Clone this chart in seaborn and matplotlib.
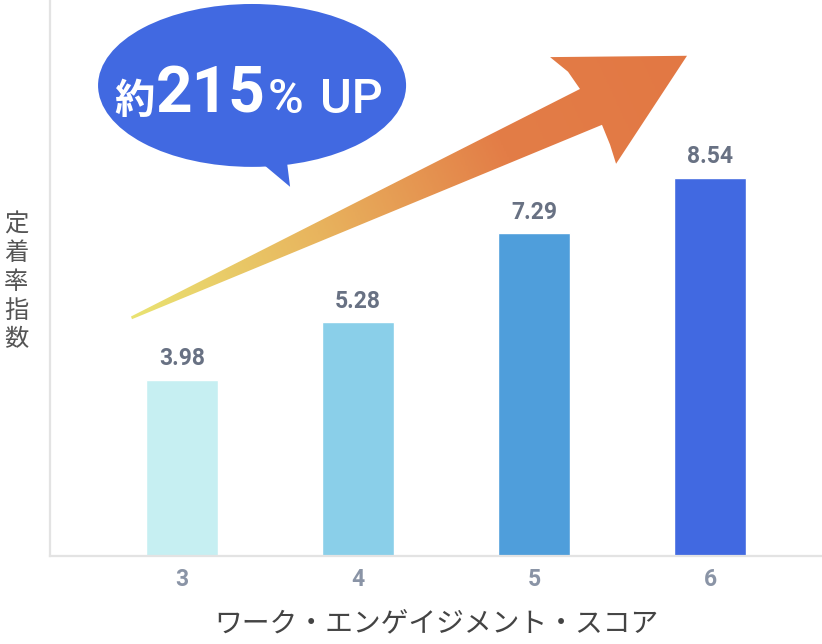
import numpy as np
import pandas as pd
import matplotlib
matplotlib.use("Agg")
import matplotlib.pyplot as plt
import seaborn as sns
from matplotlib.patches import Ellipse, Polygon
from matplotlib.colors import LinearSegmentedColormap

# data
scores = ["3", "4", "5", "6"]
index_values = [3.98, 5.28, 7.29, 8.54]
bar_colors = ["#c6eff2", "#8acfe9", "#4f9edb", "#4169e1"]
x_title = "ワーク・エンゲイジメント・スコア"
y_title = "定着率指数"

sns.set_style("white")
plt.rcParams["font.family"] = ["Roboto", "Noto Sans CJK JP", "DejaVu Sans"]

df = pd.DataFrame({"score": scores, "value": index_values})

fig = plt.figure(figsize=(8.22, 6.44), dpi=100)
ax = fig.add_axes([50 / 822, 88 / 644, 772 / 822, 556 / 644])

sns.barplot(data=df, x="score", y="value", hue="score", palette=bar_colors,
            legend=False, width=0.41, saturation=1, ax=ax)

for c in ax.containers:
    ax.bar_label(c, fmt="%.2f", padding=7, fontsize=16.5, color="#687183",
                 fontweight="bold")

ax.set_xlim(-0.75, 3.636)
ax.set_ylim(0, 12.56)
ax.set_yticks([])
ax.tick_params(axis="x", length=0, pad=9, labelsize=16.5, labelcolor="#8a94a6")
for lab in ax.get_xticklabels():
    lab.set_fontweight("bold")
sns.despine(ax=ax, top=True, right=True)
for s in ["left", "bottom"]:
    ax.spines[s].set_color("#e3e3e3")
    ax.spines[s].set_linewidth(1.6)

ax.set_xlabel(x_title, fontsize=20, color="#444444", labelpad=12,
              family=["Noto Sans CJK JP", "DejaVu Sans"])
ax.set_ylabel("")
fig.text(16 / 822, 1 - 282 / 644, "\n".join(y_title), fontsize=17.5,
         color="#555555", ha="center", va="center", linespacing=1.13,
         family=["Noto Sans CJK JP", "DejaVu Sans"])

# gradient arrow
arrow_pts = [(-0.290, 5.41), (2.261, 10.55), (2.193, 10.94), (2.091, 11.27),
             (2.869, 11.30), (2.466, 8.86), (2.432, 9.29), (2.386, 9.74),
             (-0.284, 5.35)]
poly = Polygon(arrow_pts, closed=True, facecolor="none", edgecolor="none")
ax.add_patch(poly)
cmap = LinearSegmentedColormap.from_list("arr", ["#eae372", "#e8b45e", "#e37d47", "#e27844"])
xs = np.linspace(-0.35, 2.95, 400)
ys = np.linspace(5.2, 11.4, 300)
gx, gy = np.meshgrid(xs, ys)
dx, dy = (2.869 + 0.29) * 176, (11.30 - 5.41) * 44.26
t = ((gx + 0.29) * 176 * dx + (gy - 5.41) * 44.26 * dy) / (dx * dx + dy * dy)
img = ax.imshow(np.clip(t, 0, 1), cmap=cmap, origin="lower", aspect="auto",
                extent=(xs[0], xs[-1], ys[0], ys[-1]), zorder=3, vmin=0, vmax=1)
img.set_clip_path(poly)

# speech bubble
bubble = Ellipse((0.398, 10.63), 1.75, 3.68, facecolor="#4169e1",
                 edgecolor="none", zorder=4, clip_on=False)
ax.add_patch(bubble)
tail = Polygon([(0.386, 9.1), (0.614, 8.34), (0.59, 9.1)], closed=True,
               facecolor="#4169e1", edgecolor="none", zorder=4)
ax.add_patch(tail)
base_y = 10.01
ax.text(-0.385, base_y, "約", fontsize=29, color="white", fontweight="bold",
        ha="left", va="baseline", zorder=5,
        family=["Noto Sans CJK JP", "DejaVu Sans"])
ax.text(-0.150, base_y, "215", fontsize=46, color="white", fontweight="bold",
        ha="left", va="baseline", zorder=5)
ax.text(0.488, base_y, "%", fontsize=35, color="white", fontweight="medium",
        ha="left", va="baseline", zorder=5)
ax.text(0.785, base_y, "UP", fontsize=35, color="white", fontweight="medium",
        ha="left", va="baseline", zorder=5)

fig.savefig("out.png", dpi=100)
